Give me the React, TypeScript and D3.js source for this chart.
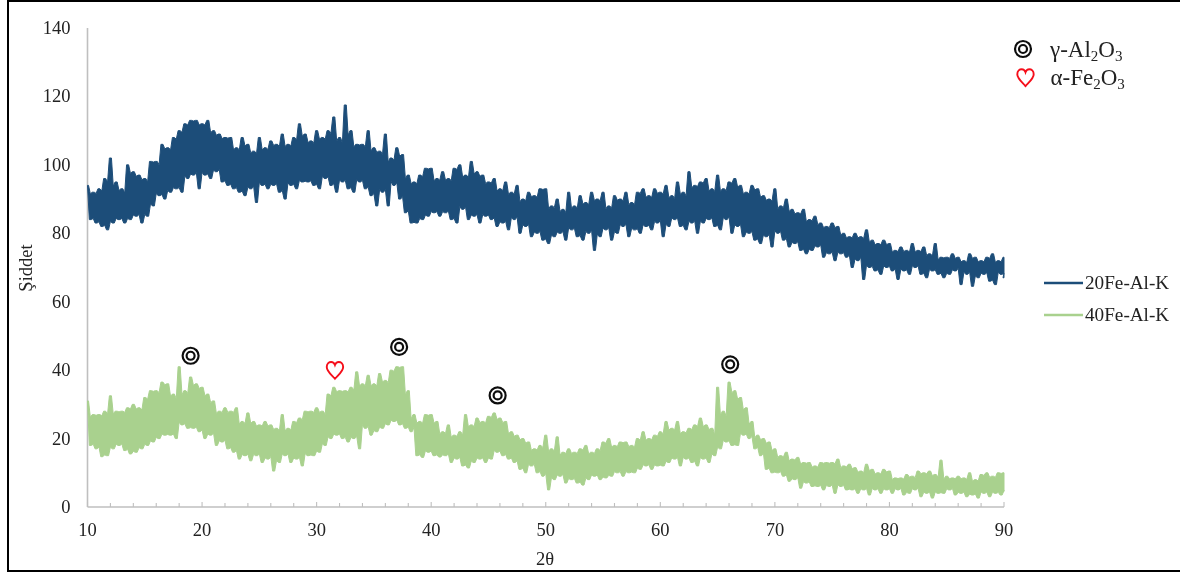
import React from "react";
import * as d3 from "d3";

const thetaStart = 10;
const thetaStep = 0.5;
const xTickLabels = [10, 20, 30, 40, 50, 60, 70, 80, 90];
const yTickLabels = [0, 20, 40, 60, 80, 100, 120, 140];

const blueUpper = [
  94,92,93,96,102,95,93,100,98,97,
  96,101,101,106,105,108,110,112,113,113,
  112,113,110,109,108,108,105,108,106,104,
  108,105,107,106,109,106,108,112,109,107,
  110,108,110,114,108,117.5,110,106,106,110,
  105,104,109,102,105,103,97,95,97,99,
  99,96,98,96,99,100,97,101,98,97,
  95,96,93,95,92,94,90,92,91,93,
  93,88,90,87,92,88,91,89,92,90,
  92,88,91,90,92,89,92,93,91,93,
  92,94,91,95,92,98,94,95,96,93,
  97,93,95,96,94,92,94,93,91,90,
  93,88,90,87,86,87,84,85,83,82,
  83,82,80,79,80,79,81,78,77,78,
  77,75,76,75,77,75,76,74,77,73,
  73,74,73,72,74,73,72,73,74,72,
  73,
];
const blueLower = [
  84,83,82,81,83,84,83,84,85,83,
  85,88,91,90,92,93,92,96,97,93,
  97,96,98,95,94,93,92,91,93,89,
  94,93,94,92,90,94,93,95,95,94,
  93,96,94,92,95,93,92,95,93,91,
  88,92,88,94,90,86,83,83,84,85,
  86,85,86,84,83,87,84,85,83,85,
  84,82,83,81,84,80,82,79,80,78,
  77,79,80,78,81,79,78,80,75,79,
  81,78,80,82,79,81,80,82,81,83,
  79,82,84,82,81,83,80,83,84,82,
  81,84,80,82,79,80,78,77,79,76,
  80,78,76,77,75,74,75,76,73,74,
  72,74,73,70,72,66.5,70,69,68,70,
  69,66.5,69,68,70,68,67,69,68,67,
  68,69,65,68,64.5,67,68,66,65,68,
  67,
];
const greenUpper = [
  31,27,27,28,32.5,28,28,29,30,29,
  32,34,34,36.5,36,33,41,34,38,36,
  35,33,31,28,29,28,29,25,27.5,25,
  24,25,24,23,27,23,25,26,28,28,
  29,28,33,35,34,34,35,39.5,36,38.5,
  36,39,37,40,41,41,34,27,25,27,
  27,25,22,24,21,22,27,24,26,25,
  26.5,27.5,26,25,22,21,20,19,17,18,
  21,17,20.5,16,17,16,17,18,16,17,
  19,20,18,19,19,18,20,22,20,21,
  22,25,23,25,22,23,24,26,24,23,
  35,28,36.5,34,32,29,25,21,20,19,
  17,15,16,14,14.5,13,13,12,13,13,
  13,14,12,12.5,11.5,10.5,12.5,11,10,11,
  10.5,8.5,8.5,9.5,9,10.5,10,10.5,9.5,13.7,
  9,8.5,9,8.5,10,8,9.5,10,9,10,
  10,
];
const greenLower = [
  18,17,14.7,15,17,18,16.5,15.5,16,17,
  18,19,20,21,21,20,24,23,23,22,
  20,21,18,19,17,16,14,15,13.5,15,
  13,14,10.5,13,15,13,14,12,15,15,
  16,18,20,21,20,19,20,17,23,21,
  22,23,24,25,24,23,22,15,14.5,16,
  15,14.6,15,13,14,12,11.4,13,14,13,
  14,16,15,14,13,11,10,12,10,9,
  5,8,9,7,8,7,6.4,8,9,8,
  8.5,9,10,9,10,10,11,12,11,12,
  12,13,14,12,14,13,12,14,13,15,
  17,19,18,18,21,20,17,15,11,10,
  10,9,7.5,8,5.5,7,6,6,5,6,
  4,6,5,5,4,5,3.5,5,4,5,
  4,5,3.5,4,5,3,4,2.6,4,4,
  5,3.5,4,3,3.5,2.6,4,3,4,3.5,
  4.5,
];

const gammaThetas = [19, 37.2, 45.8, 66.1];
const gammaHeights = [44.2, 46.8, 32.6, 41.7];
const alphaThetas = [31.6];
const alphaHeights = [40];

const seriesNames = ["20Fe-Al-K", "40Fe-Al-K"];
const BLUE = "#1f4e79";
const GREEN = "#a9d18e";
const AXIS = "#bfbfbf";
const FONT = "'Liberation Serif', serif";

const x = d3.scaleLinear().domain([10, 90]).range([87.5, 1004]);
const y = d3.scaleLinear().domain([0, 140]).range([507, 28]);
const thetaOf = (i: number) => thetaStart + i * thetaStep;

// Silhouette of the dense trace: a narrow tooth at each read extreme and a shallow notch between teeth.
function silhouette(upper: number[], lower: number[]): [number, number][] {
  const half = 0.09;
  const top: [number, number][] = [];
  const bottom: [number, number][] = [];
  upper.forEach((u, i) => {
    const t = thetaOf(i);
    const last = i === upper.length - 1;
    top.push([Math.max(10, t - half), u], [Math.min(90, t + half), u]);
    if (!last) {
      const nu = upper[i + 1];
      top.push([t + thetaStep / 2, Math.min(u, nu) - 0.2 - Math.abs(u - nu) * 0.15]);
    }
    const tl = last ? t : t + thetaStep / 2;
    bottom.push([Math.max(10, tl - half), lower[i]], [Math.min(90, tl + half), lower[i]]);
    if (!last) {
      const nl = lower[i + 1];
      bottom.push([tl + thetaStep / 2, Math.max(lower[i], nl) + 0.2 + Math.abs(lower[i] - nl) * 0.15]);
    }
  });
  return [...top, ...bottom.reverse()];
}

const outline = d3.line<[number, number]>().x((d) => x(d[0])).y((d) => y(d[1]));

const minorTicks = d3.range(10, 90.01, 2);

function Target({ cx, cy }: { cx: number; cy: number }) {
  return (
    <g fill="none" stroke="#111" strokeWidth={2.2}>
      <circle cx={cx} cy={cy} r={8} />
      <circle cx={cx} cy={cy} r={4} />
    </g>
  );
}
function Heart({ cx, cy }: { cx: number; cy: number }) {
  return (
    <path
      transform={`translate(${cx},${cy})`}
      d="M0,8.6 C-2.6,5.4 -8.2,1.4 -8.2,-3.2 C-8.2,-6.6 -5.8,-8.2 -3.8,-8.2 C-1.9,-8.2 -0.6,-6.9 0,-5.2 C0.6,-6.9 1.9,-8.2 3.8,-8.2 C5.8,-8.2 8.2,-6.6 8.2,-3.2 C8.2,1.4 2.6,5.4 0,8.6 Z"
      fill="none"
      stroke="#f5101a"
      strokeWidth={1.9}
    />
  );
}

function Formula({ px, py, parts }: { px: number; py: number; parts: [string, boolean][] }) {
  return (
    <text x={px} y={py} fontSize={23} fill="#222">
      {parts.map(([s, sub], i) => (
        <tspan key={i} fontSize={sub ? 15 : 23} dy={sub ? 4 : i > 0 ? -4 : 0}>
          {s}
        </tspan>
      ))}
    </text>
  );
}

export default function App() {
  return (
    <svg
      width={1180}
      height={573}
      style={{ position: "absolute", left: 0, top: 0, background: "#fff", fontFamily: FONT }}
    >
      <defs>
        <filter id="soft" x="-2%" y="-2%" width="104%" height="104%">
          <feGaussianBlur stdDeviation={0.35} />
        </filter>
      </defs>
      <g filter="url(#soft)">
        <rect x={8} y={1} width={1180} height={570} fill="none" stroke="#000" strokeWidth={2} />

        <line x1={x(10)} x2={x(10)} y1={y(140)} y2={y(0)} stroke={AXIS} strokeWidth={1.6} />
        <line x1={x(10)} x2={x(90)} y1={y(0)} y2={y(0)} stroke={AXIS} strokeWidth={1.6} />
        {minorTicks.map((t) => (
          <line key={t} x1={x(t)} x2={x(t)} y1={y(0)} y2={y(0) - (t % 10 === 0 ? 5 : 4)} stroke={AXIS} strokeWidth={1.1} />
        ))}

        <path d={(outline(silhouette(greenUpper, greenLower)) ?? "") + "Z"} fill={GREEN} stroke={GREEN} strokeWidth={1} strokeLinejoin="round" />
        <path d={(outline(silhouette(blueUpper, blueLower)) ?? "") + "Z"} fill={BLUE} stroke={BLUE} strokeWidth={1} strokeLinejoin="round" />

        {yTickLabels.map((v) => (
          <text key={v} x={70.5} y={y(v) + 6} textAnchor="end" fontSize={18.5} fill="#222">
            {v}
          </text>
        ))}
        {xTickLabels.map((v) => (
          <text key={v} x={x(v)} y={536} textAnchor="middle" fontSize={18.5} fill="#222">
            {v}
          </text>
        ))}
        <text x={545} y={565} textAnchor="middle" fontSize={18.5} fill="#222">2θ</text>
        <text transform="translate(32,268) rotate(-90)" textAnchor="middle" fontSize={18.5} fill="#222">Şiddet</text>

        {gammaThetas.map((t, i) => (
          <Target key={t} cx={x(t)} cy={y(gammaHeights[i])} />
        ))}
        {alphaThetas.map((t, i) => (
          <Heart key={t} cx={x(t)} cy={y(alphaHeights[i])} />
        ))}

        <Target cx={1023} cy={49} />
        <Heart cx={1025.5} cy={77.5} />
        <Formula px={1050} py={57} parts={[["γ-Al", false], ["2", true], ["O", false], ["3", true]]} />
        <Formula px={1050.5} py={85} parts={[["α-Fe", false], ["2", true], ["O", false], ["3", true]]} />

        {seriesNames.map((name, i) => (
          <g key={name}>
            <line x1={1044} x2={1083} y1={283 + i * 32} y2={283 + i * 32} stroke={i === 0 ? BLUE : GREEN} strokeWidth={2.6} />
            <text x={1085} y={289 + i * 32} fontSize={19.2} fill="#222">{name}</text>
          </g>
        ))}
      </g>
    </svg>
  );
}
